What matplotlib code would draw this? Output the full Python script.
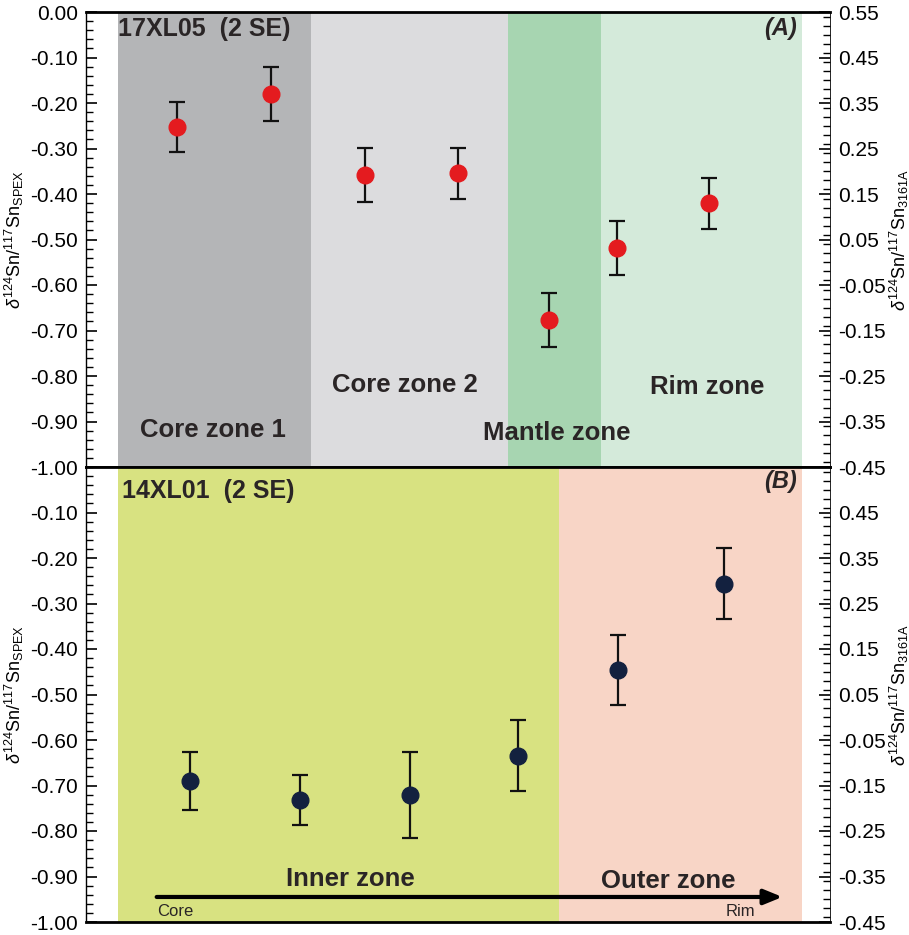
import matplotlib
matplotlib.use("Agg")
import matplotlib.pyplot as plt
from matplotlib import font_manager
from matplotlib.ticker import MultipleLocator, FormatStrFormatter, FixedLocator

plt.rcParams["font.family"] = ["Liberation Sans", "DejaVu Sans"]
plt.rcParams["mathtext.fontset"] = "custom"
plt.rcParams["mathtext.rm"] = "Liberation Sans"
plt.rcParams["mathtext.it"] = "Liberation Sans:italic"

names = {f.name for f in font_manager.fontManager.ttflist}
NARROW = "Liberation Sans Narrow" if "Liberation Sans Narrow" in names else None

# panel A: 17XL05, position along traverse (0-100) and delta values
a_pos = [12.2, 24.9, 37.5, 50.0, 62.2, 71.4, 83.7]
a_val = [-0.253, -0.180, -0.358, -0.354, -0.677, -0.519, -0.420]
a_err = [0.055, 0.060, 0.060, 0.056, 0.060, 0.060, 0.056]

# panel B: 14XL01
b_pos = [14.0, 28.8, 43.5, 58.1, 71.5, 85.8]
b_val = [-0.690, -0.732, -0.721, -0.635, -0.446, -0.257]
b_err = [0.064, 0.055, 0.095, 0.078, 0.077, 0.078]

# zone shading: (start, end, colour)
a_zones = [(4.3, 30.2, "#b4b5b7"), (30.2, 56.7, "#dcdcde"),
           (56.7, 69.2, "#a7d5b1"), (69.2, 96.2, "#d4eada")]
b_zones = [(4.3, 63.6, "#d8e281"), (63.6, 96.2, "#f8d5c6")]

a_labels = [("Core zone 1", 17.1, -0.919), ("Core zone 2", 42.9, -0.820),
            ("Mantle zone", 63.3, -0.925), ("Rim zone", 83.5, -0.824)]
b_labels = [("Inner zone", 35.5, -0.905), ("Outer zone", 78.2, -0.909)]

OFFSET = 0.55  # delta 3161A = delta SPEX + 0.55
TXT = "#2a2526"

fig = plt.figure(figsize=(9.09, 9.35), dpi=100)
L, W = 86 / 909, 744 / 909
axA = fig.add_axes([L, 1 - 467 / 935, W, 455 / 935])
axB = fig.add_axes([L, 1 - 922 / 935, W, 455 / 935])

left_lab = r"$\delta^{124}$Sn/$^{117}$Sn$_{\rm SPEX}$"
right_lab = r"$\delta^{124}$Sn/$^{117}$Sn$_{\rm 3161A}$"


def style_axes(ax, zones, pos, val, err, colour, left_ticks, right_ticks):
    for x0, x1, c in zones:
        ax.axvspan(x0, x1, color=c, lw=0, zorder=0)
    ax.errorbar(pos, val, yerr=err, fmt="o", ms=12, mfc=colour, mec=colour,
                ecolor="#111111", elinewidth=1.6, capsize=6, capthick=1.6, zorder=3)
    ax.set_xlim(0, 100)
    ax.set_ylim(-1.0, 0.0)
    ax.set_xticks([])
    ax.yaxis.set_major_locator(FixedLocator(left_ticks))
    ax.yaxis.set_minor_locator(MultipleLocator(0.02))
    ax.yaxis.set_major_formatter(FormatStrFormatter("%.2f"))
    ax.tick_params(axis="y", which="major", direction="in", length=8, width=1.2,
                   labelsize=15, pad=6)
    ax.tick_params(axis="y", which="minor", direction="in", length=5, width=1.0)
    ax.set_ylabel(left_lab, fontsize=13, labelpad=3)
    for s in ax.spines.values():
        s.set_linewidth(1.0)
    ax.spines["top"].set_linewidth(2.0)
    ax.spines["bottom"].set_linewidth(2.0)
    ax.spines["right"].set_visible(False)

    ax2 = ax.twinx()
    ax2.set_ylim(-1.0 + OFFSET, 0.0 + OFFSET)
    ax2.yaxis.set_major_locator(FixedLocator(right_ticks))
    ax2.yaxis.set_minor_locator(MultipleLocator(0.02))
    ax2.yaxis.set_major_formatter(FormatStrFormatter("%.2f"))
    ax2.tick_params(axis="y", which="major", direction="in", length=8, width=1.2,
                    labelsize=15, pad=6)
    ax2.tick_params(axis="y", which="minor", direction="in", length=5, width=1.0)
    ax2.set_ylabel(right_lab, fontsize=13, labelpad=1)
    for s in ax2.spines.values():
        s.set_visible(False)
    ax2.spines["right"].set_visible(True)
    ax2.spines["right"].set_linewidth(0.6)
    return ax2


lt_a = [round(-1.0 + 0.1 * i, 2) for i in range(11)]
rt_a = [round(-0.45 + 0.1 * i, 2) for i in range(11)]
style_axes(axA, a_zones, a_pos, a_val, a_err, "#e41b1f", lt_a, rt_a)
style_axes(axB, b_zones, b_pos, b_val, b_err, "#13213f", lt_a[:-1], rt_a[:-1])

axA.text(4.3, -0.012, "17XL05  (2 SE)", fontsize=18, fontweight="bold",
         color=TXT, va="top", ha="left")
axA.text(95.5, -0.012, "(A)", fontsize=17, fontweight="bold", style="italic",
         color=TXT, va="top", ha="right")
axB.text(4.8, -0.027, "14XL01  (2 SE)", fontsize=18, fontweight="bold",
         color=TXT, va="top", ha="left")
axB.text(95.5, -0.006, "(B)", fontsize=17, fontweight="bold", style="italic",
         color=TXT, va="top", ha="right")

for txt, x, y in a_labels:
    axA.text(x, y, txt, fontsize=18.5, fontweight="bold", color=TXT,
             ha="center", va="center")

if NARROW:
    nfam, zsize, csize = NARROW, 22, 13.5
else:
    nfam, zsize, csize = "Liberation Sans", 18.5, 12
for txt, x, y in b_labels:
    axB.text(x, y, txt, fontsize=zsize, fontweight="bold", family=nfam,
             color=TXT, ha="center", va="center")

axB.annotate("", xy=(93.6, -0.945), xytext=(9.5, -0.945),
             arrowprops=dict(arrowstyle="-|>,head_length=1.1,head_width=0.45",
                             lw=3, color="black", shrinkA=0, shrinkB=0))
axB.text(9.5, -0.960, "Core", fontsize=csize, family=nfam, color=TXT,
         ha="left", va="top")
axB.text(90.0, -0.960, "Rim", fontsize=csize, family=nfam, color=TXT,
         ha="right", va="top")

fig.savefig("out.png", dpi=100)
